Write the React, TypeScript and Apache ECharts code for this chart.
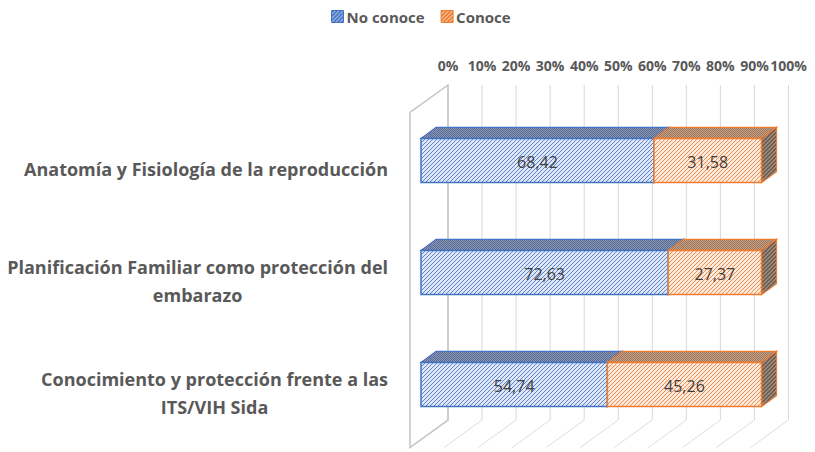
import React, { useEffect, useRef } from "react";
import * as echarts from "echarts";

const categories = [
  "Anatomía y Fisiología de la reproducción",
  "Planificación Familiar como protección del\nembarazo",
  "Conocimiento y protección frente a las\nITS/VIH Sida",
];
const noConoce = [68.42, 72.63, 54.74];
const conoce = [31.58, 27.37, 45.26];
const seriesNames = ["No conoce", "Conoce"];
const ticks = [0, 10, 20, 30, 40, 50, 60, 70, 80, 90, 100];

const FONT = "'Open Sans', Lato, sans-serif";
const BAR_DX = 15;
const BAR_DY = 11;
const WALL_DX = 38;
const WALL_DY = 27.5;

function makePattern(bg: string, fg: string, kind: "diag" | "dots" | "diag2") {
  const size = 4;
  const c = document.createElement("canvas");
  c.width = size;
  c.height = size;
  const ctx = c.getContext("2d")!;
  ctx.fillStyle = bg;
  ctx.fillRect(0, 0, size, size);
  ctx.fillStyle = fg;
  for (let x = 0; x < size; x++) {
    for (let y = 0; y < size; y++) {
      if (kind === "diag" && (x + y) % 4 === 3) ctx.fillRect(x, y, 1, 1);
      if (kind === "diag2" && ((x + y) % 4 === 3 || (x + y) % 4 === 0)) ctx.fillRect(x, y, 1, 1);
      if (kind === "dots" && (x + y) % 2 === 0) ctx.fillRect(x, y, 1, 1);
    }
  }
  return { image: c, repeat: "repeat", imageWidth: size, imageHeight: size } as any;
}

export default function App() {
  const ref = useRef<HTMLDivElement>(null);
  useEffect(() => {
    if (!ref.current) return;
    const chart = echarts.init(ref.current, null, { renderer: "svg" });

    const styles = [
      {
        stroke: "#4472C4",
        front: makePattern("#dfe7f6", "#5a83cf", "diag"),
        top: makePattern("#8797b8", "#5a6b8f", "dots"),
        side: makePattern("#8797b8", "#5a6b8f", "dots"),
        legend: makePattern("#4472C4", "#dfe7f6", "diag"),
      },
      {
        stroke: "#ED7D31",
        front: makePattern("#fdeadd", "#f19050", "diag"),
        top: makePattern("#c5a086", "#9b765c", "dots"),
        side: makePattern("#9a8778", "#6e5d50", "diag2"),
        legend: makePattern("#ED7D31", "#fdeadd", "diag"),
      },
    ];

    const starts = noConoce.map(() => 0);
    const makeData = (vals: number[], base: number[]) =>
      vals.map((v, i) => [i, base[i], base[i] + v, v]);
    const data0 = makeData(noConoce, starts);
    const data1 = makeData(conoce, noConoce);

    const renderBar = (si: number) => (params: any, api: any) => {
      const cat = api.value(0);
      const s = api.value(1);
      const e = api.value(2);
      const v = api.value(3);
      const a = api.coord([s, cat]);
      const b = api.coord([e, cat]);
      const h = api.size([0, 1])[1] * 0.395;
      const x0 = a[0];
      const x1 = b[0];
      const yt = a[1] - h / 2;
      const yb = a[1] + h / 2;
      const st = styles[si];
      return {
        type: "group",
        children: [
          {
            type: "polygon",
            shape: { points: [[x0, yt], [x0 + BAR_DX, yt - BAR_DY], [x1 + BAR_DX, yt - BAR_DY], [x1, yt]] },
            style: { fill: st.top, stroke: st.stroke, lineWidth: 1.2 },
          },
          {
            type: "polygon",
            shape: { points: [[x1, yt], [x1 + BAR_DX, yt - BAR_DY], [x1 + BAR_DX, yb - BAR_DY], [x1, yb]] },
            style: { fill: st.side, stroke: st.stroke, lineWidth: 1.2 },
          },
          {
            type: "rect",
            shape: { x: x0, y: yt, width: x1 - x0, height: h },
            style: { fill: st.front, stroke: st.stroke, lineWidth: 1.5 },
          },
          {
            type: "text",
            style: {
              text: v.toFixed(2).replace(".", ","),
              x: (x0 + x1) / 2,
              y: a[1] + 1,
              align: "center",
              verticalAlign: "middle",
              fontFamily: FONT,
              fontSize: 16,
              fill: "#404040",
            },
          },
        ],
      };
    };

    const renderWall = (params: any, api: any) => {
      const t = api.value(0);
      const p = api.coord([t, 0]);
      const top = params.coordSys.y;
      const bottom = params.coordSys.y + params.coordSys.height;
      const children: any[] = [
        {
          type: "line",
          shape: { x1: p[0], y1: top, x2: p[0], y2: bottom },
          style: { stroke: "#d9d9d9", lineWidth: 1 },
        },
        {
          type: "line",
          shape: { x1: p[0], y1: bottom, x2: p[0] - WALL_DX, y2: bottom + WALL_DY },
          style: { stroke: "#dedede", lineWidth: 1 },
        },
      ];
      if (t === ticks[0]) {
        children.push({
          type: "polygon",
          shape: {
            points: [
              [p[0], top],
              [p[0] - WALL_DX, top + WALL_DY],
              [p[0] - WALL_DX, bottom + WALL_DY],
              [p[0], bottom],
            ],
          },
          style: { fill: "none", stroke: "#c4c4c4", lineWidth: 1.5 },
        });
      }
      return { type: "group", children };
    };

    chart.setOption({
      animation: false,
      backgroundColor: "#ffffff",
      legend: {
        left: 326,
        top: 4,
        itemWidth: 12,
        itemHeight: 12,
        itemGap: 16,
        icon: "rect",
        data: [
          { name: seriesNames[0], itemStyle: { color: styles[0].legend, borderColor: "#4472C4", borderWidth: 1 } },
          { name: seriesNames[1], itemStyle: { color: styles[1].legend, borderColor: "#ED7D31", borderWidth: 1 } },
        ],
        textStyle: { fontFamily: FONT, fontWeight: "bold", fontSize: 15, color: "#595959", padding: [0, 0, 0, -2] },
      },
      grid: [
        { left: 421, top: 104.5, width: 340.5, height: 336 },
        { left: 448, top: 85, width: 340.5, height: 335 },
        { left: 410, top: 112.5, width: 340.5, height: 336 },
      ],
      xAxis: [
        { gridIndex: 0, type: "value", min: 0, max: 100, show: false },
        {
          gridIndex: 1,
          type: "value",
          min: 0,
          max: 100,
          interval: 10,
          position: "top",
          axisLine: { show: false },
          axisTick: { show: false },
          splitLine: { show: false },
          axisLabel: {
            formatter: "{value}%",
            margin: 13,
            fontFamily: FONT,
            fontWeight: "bold",
            fontSize: 14,
            color: "#595959",
          },
        },
        { gridIndex: 2, type: "value", min: 0, max: 100, show: false },
      ],
      yAxis: [
        { gridIndex: 0, type: "category", data: categories, inverse: true, show: false },
        { gridIndex: 1, type: "value", min: 0, max: 1, show: false },
        {
          gridIndex: 2,
          type: "category",
          data: categories,
          inverse: true,
          axisLine: { show: false },
          axisTick: { show: false },
          axisLabel: {
            margin: 22,
            formatter: (v: string) =>
              v
                .split("\n")
                .map((l) => "{c|" + l + "}")
                .join("\n"),
            rich: {
              c: {
                align: "center",
                fontFamily: FONT,
                fontWeight: "bold",
                fontSize: 18,
                color: "#595959",
                lineHeight: 28,
              },
            },
          },
        },
      ],
      series: [
        {
          type: "custom",
          name: "wall",
          xAxisIndex: 1,
          yAxisIndex: 1,
          z: 1,
          silent: true,
          data: ticks.map((t) => [t, 0]),
          encode: { x: 0, y: 1 },
          renderItem: renderWall,
        },
        {
          type: "custom",
          name: seriesNames[0],
          xAxisIndex: 0,
          yAxisIndex: 0,
          z: 2,
          itemStyle: { color: "#4472C4" },
          data: data0,
          encode: { x: [1, 2], y: 0 },
          renderItem: renderBar(0),
        },
        {
          type: "custom",
          name: seriesNames[1],
          xAxisIndex: 0,
          yAxisIndex: 0,
          z: 3,
          itemStyle: { color: "#ED7D31" },
          data: data1,
          encode: { x: [1, 2], y: 0 },
          renderItem: renderBar(1),
        },
      ],
    });
    return () => chart.dispose();
  }, []);
  return (
    <div
      ref={ref}
      style={{ position: "fixed", left: 0, top: 0, width: 815, height: 452, background: "#fff" }}
    />
  );
}
